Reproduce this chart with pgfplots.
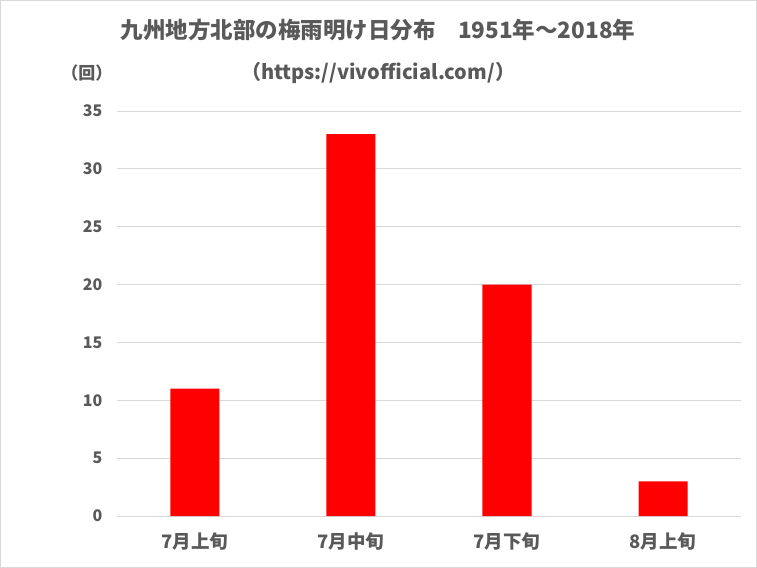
\documentclass[border=0pt]{standalone}
\usepackage{pgfplots}
\pgfplotsset{compat=1.18}
\usepackage{fontspec}
\setmainfont{Noto Sans CJK JP}
\definecolor{txt}{HTML}{595959}
\definecolor{gridc}{HTML}{D9D9D9}
\definecolor{frame}{HTML}{D9D9D9}
\begin{document}
\begin{tikzpicture}
\begin{axis}[
  at={(0,0)}, anchor=south west,
  scale only axis,
  width=624bp, height=405bp,
  xmin=-0.5, xmax=3.5,
  ymin=0, ymax=35,
  ytick={0,5,...,35},
  xtick={0,1,2,3},
  xticklabels={7月上旬,7月中旬,7月下旬,8月上旬},
  axis line style={draw=none},
  major tick length=0pt,
  ymajorgrids, grid style={gridc, line width=0.8pt},
  ticklabel style={text=txt},
  /pgf/number format/assume math mode=true,
  yticklabel style={font=\fontsize{16bp}{18bp}\selectfont\bfseries, xshift=-11bp},
  xticklabel style={font=\fontsize{18.5bp}{20bp}\selectfont\bfseries, yshift=-13bp},
  clip=false,
]
\addplot[ybar, bar width=49bp, fill={rgb,255:red,255;green,0;blue,0}, draw=none]
  coordinates {(0,11) (1,33) (2,20) (3,3)};
\end{axis}
\node[text=txt, font=\fontsize{22.5bp}{24bp}\selectfont\bfseries] at (261bp,486bp) {九州地方北部の梅雨明け日分布　1951年～2018年};
\node[text=txt, font=\fontsize{20bp}{22bp}\selectfont\bfseries] at (261bp,443bp) {（https://vivofficial.com/）};
\node[text=txt, font=\fontsize{17bp}{19bp}\selectfont\bfseries] at (-30bp,443bp) {（回）};
\draw[frame, line width=1pt] (-116.5bp,-51.5bp) rectangle (639.5bp,515.5bp);
\end{tikzpicture}
\end{document}
